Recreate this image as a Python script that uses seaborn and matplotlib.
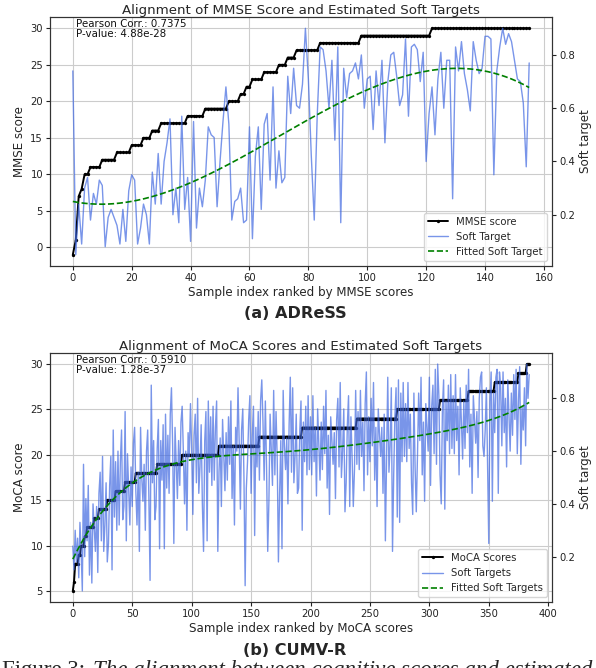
import numpy as np
import pandas as pd
import matplotlib
matplotlib.use("Agg")
import matplotlib.pyplot as plt
import seaborn as sns

# ---------------- data: (a) ADReSS ----------------
mmse_levels = [-1, 1, 7, 8, 10, 11, 12, 13, 14, 15, 16, 17, 18, 19, 20, 21, 22, 23, 24, 25, 26, 27, 28, 29, 30]
mmse_counts = [1, 1, 1, 1, 2, 4, 5, 5, 4, 3, 3, 9, 6, 8, 4, 2, 2, 4, 5, 3, 3, 8, 14, 24, 34]
adress_soft = [
    0.74, 0.05, 0.24, 0.09, 0.30, 0.34, 0.18, 0.28, 0.24, 0.33,
    0.31, 0.08, 0.19, 0.22, 0.19, 0.16, 0.09, 0.22, 0.10, 0.29,
    0.35, 0.33, 0.09, 0.15, 0.24, 0.20, 0.09, 0.36, 0.24, 0.43,
    0.24, 0.40, 0.47, 0.56, 0.20, 0.30, 0.17, 0.57, 0.22, 0.34,
    0.10, 0.55, 0.15, 0.30, 0.23, 0.33, 0.53, 0.50, 0.49, 0.23,
    0.40, 0.55, 0.68, 0.54, 0.18, 0.25, 0.26, 0.30, 0.17, 0.18,
    0.53, 0.11, 0.42, 0.53, 0.22, 0.54, 0.58, 0.33, 0.68, 0.30,
    0.44, 0.32, 0.34, 0.72, 0.58, 0.75, 0.61, 0.60, 0.69, 0.90,
    0.71, 0.42, 0.18, 0.57, 0.83, 0.82, 0.74, 0.60, 0.78, 0.48,
    0.83, 0.17, 0.75, 0.64, 0.73, 0.74, 0.77, 0.71, 0.80, 0.60,
    0.71, 0.72, 0.52, 0.74, 0.61, 0.78, 0.47, 0.70, 0.80, 0.81,
    0.72, 0.61, 0.65, 0.86, 0.57, 0.83, 0.84, 0.82, 0.70, 0.81,
    0.40, 0.58, 0.68, 0.50, 0.71, 0.81, 0.60, 0.78, 0.78, 0.26,
    0.83, 0.74, 0.85, 0.73, 0.67, 0.59, 0.85, 0.78, 0.73, 0.75,
    0.87, 0.87, 0.86, 0.35, 0.74, 0.83, 0.90, 0.84, 0.88, 0.85,
    0.78, 0.71, 0.70, 0.62, 0.38, 0.77,
]

# ---------------- data: (b) CUMV-R ----------------
moca_levels = [5, 6, 8, 9, 10, 11, 12, 13, 14, 15, 16, 17, 18, 19, 20, 21, 22, 23, 24, 25, 26, 27, 28, 29, 30]
moca_counts = [1, 1, 3, 2, 3, 2, 6, 4, 7, 7, 8, 9, 18, 21, 31, 34, 36, 46, 34, 36, 24, 22, 20, 7, 3]
cumv_soft = [
    0.24, 0.15, 0.30, 0.18, 0.27, 0.12, 0.33, 0.22, 0.07, 0.55,
    0.20, 0.42, 0.26, 0.47, 0.13, 0.33, 0.10, 0.40, 0.31, 0.22,
    0.39, 0.14, 0.44, 0.52, 0.26, 0.58, 0.22, 0.32, 0.48, 0.18,
    0.25, 0.47, 0.58, 0.15, 0.68, 0.35, 0.56, 0.30, 0.60, 0.32,
    0.56, 0.68, 0.34, 0.39, 0.75, 0.26, 0.59, 0.46, 0.32, 0.54,
    0.39, 0.63, 0.69, 0.45, 0.32, 0.52, 0.22, 0.69, 0.50, 0.41,
    0.55, 0.30, 0.60, 0.68, 0.42, 0.11, 0.85, 0.48, 0.64, 0.34,
    0.39, 0.61, 0.72, 0.23, 0.64, 0.49, 0.70, 0.23, 0.74, 0.46,
    0.66, 0.44, 0.74, 0.84, 0.62, 0.25, 0.69, 0.56, 0.42, 0.64,
    0.47, 0.71, 0.77, 0.60, 0.40, 0.60, 0.30, 0.67, 0.58, 0.78,
    0.61, 0.36, 0.66, 0.74, 0.48, 0.80, 0.44, 0.54, 0.70, 0.40,
    0.22, 0.64, 0.75, 0.26, 0.79, 0.52, 0.73, 0.47, 0.77, 0.49,
    0.69, 0.79, 0.22, 0.52, 0.65, 0.39, 0.72, 0.59, 0.45, 0.67,
    0.49, 0.73, 0.55, 0.79, 0.42, 0.62, 0.32, 0.69, 0.60, 0.84,
    0.63, 0.38, 0.68, 0.76, 0.50, 0.09, 0.46, 0.56, 0.72, 0.81,
    0.44, 0.66, 0.77, 0.28, 0.69, 0.54, 0.75, 0.49, 0.79, 0.87,
    0.71, 0.49, 0.79, 0.54, 0.22, 0.41, 0.74, 0.61, 0.47, 0.83,
    0.51, 0.75, 0.57, 0.18, 0.44, 0.64, 0.23, 0.83, 0.62, 0.53,
    0.65, 0.40, 0.70, 0.88, 0.52, 0.84, 0.48, 0.58, 0.74, 0.44,
    0.46, 0.68, 0.79, 0.30, 0.71, 0.56, 0.77, 0.51, 0.81, 0.53,
    0.73, 0.51, 0.81, 0.56, 0.69, 0.43, 0.76, 0.63, 0.49, 0.71,
    0.53, 0.77, 0.59, 0.83, 0.46, 0.66, 0.36, 0.73, 0.64, 0.55,
    0.67, 0.42, 0.72, 0.80, 0.54, 0.86, 0.50, 0.60, 0.76, 0.37,
    0.48, 0.70, 0.81, 0.39, 0.73, 0.58, 0.39, 0.53, 0.83, 0.55,
    0.75, 0.53, 0.83, 0.58, 0.71, 0.45, 0.78, 0.90, 0.51, 0.73,
    0.56, 0.80, 0.62, 0.86, 0.49, 0.69, 0.39, 0.76, 0.67, 0.58,
    0.69, 0.44, 0.74, 0.26, 0.56, 0.88, 0.52, 0.62, 0.84, 0.22,
    0.51, 0.73, 0.84, 0.35, 0.87, 0.33, 0.82, 0.56, 0.86, 0.58,
    0.78, 0.56, 0.86, 0.61, 0.74, 0.48, 0.36, 0.82, 0.54, 0.37,
    0.58, 0.82, 0.64, 0.88, 0.51, 0.71, 0.41, 0.78, 0.69, 0.60,
    0.88, 0.47, 0.77, 0.85, 0.59, 0.91, 0.55, 0.93, 0.81, 0.51,
    0.40, 0.76, 0.87, 0.38, 0.79, 0.64, 0.85, 0.59, 0.89, 0.61,
    0.81, 0.59, 0.89, 0.64, 0.77, 0.51, 0.84, 0.71, 0.57, 0.79,
    0.61, 0.85, 0.67, 0.91, 0.54, 0.74, 0.44, 0.81, 0.72, 0.63,
    0.75, 0.50, 0.80, 0.88, 0.90, 0.62, 0.58, 0.68, 0.84, 0.54,
    0.25, 0.79, 0.90, 0.41, 0.82, 0.67, 0.88, 0.91, 0.44, 0.90,
    0.84, 0.62, 0.90, 0.67, 0.80, 0.54, 0.87, 0.74, 0.60, 0.82,
    0.66, 0.89, 0.72, 0.91, 0.59, 0.79, 0.92, 0.55, 0.77, 0.68,
    0.84, 0.62, 0.93, 0.80, 0.89,
]

panels = [
    dict(levels=mmse_levels, counts=mmse_counts, soft=adress_soft, deg=3,
         title="Alignment of MMSE Score and Estimated Soft Targets",
         ylabel="MMSE score", xlabel="Sample index ranked by MMSE scores",
         labels=["MMSE score", "Soft Target", "Fitted Soft Target"],
         stats="Pearson Corr.: 0.7375\nP-value: 4.88e-28",
         caption="(a) ADReSS", xticks=range(0, 161, 20), yticks=range(0, 31, 5)),
    dict(levels=moca_levels, counts=moca_counts, soft=cumv_soft, deg=5,
         title="Alignment of MoCA Scores and Estimated Soft Targets",
         ylabel="MoCA score", xlabel="Sample index ranked by MoCA scores",
         labels=["MoCA Scores", "Soft Targets", "Fitted Soft Targets"],
         stats="Pearson Corr.: 0.5910\nP-value: 1.28e-37",
         caption="(b) CUMV-R", xticks=range(0, 401, 50), yticks=range(5, 31, 5)),
]

sns.set_theme(style="ticks")
plt.rcParams["font.family"] = ["DejaVu Sans"]
plt.rcParams["axes.linewidth"] = 0.8

W, H = 596, 668
fig = plt.figure(figsize=(W / 100, H / 100), dpi=100)

# axes boxes in pixels (left, top, right, bottom)
boxes = [(50, 17, 552, 266), (50, 352.7, 552, 602.3)]
captions_y = [313, 650.5]

for p, (l, t, r, b), cy in zip(panels, boxes, captions_y):
    ax1 = fig.add_axes([l / W, 1 - b / H, (r - l) / W, (b - t) / H])
    ax2 = ax1.twinx()

    score = np.repeat(p["levels"], p["counts"])
    soft = np.array(p["soft"])
    idx = np.arange(len(score))
    fitted = np.polyval(np.polyfit(idx, soft, p["deg"]), idx)
    df = pd.DataFrame({"idx": idx, "score": score, "soft": soft, "fit": fitted})

    ax1.grid(True, color="#cccccc", linewidth=0.8)
    ax1.set_axisbelow(True)

    sns.lineplot(data=df, x="idx", y="score", ax=ax1, color="black", linewidth=1.4,
                 marker="o", markersize=2.4, markeredgewidth=0, legend=False)
    sns.lineplot(data=df, x="idx", y="soft", ax=ax2, color="royalblue", alpha=0.7,
                 linewidth=1.0, legend=False)
    sns.lineplot(data=df, x="idx", y="fit", ax=ax2, color="green", linewidth=1.2,
                 linestyle="--", legend=False)

    ax1.set_xticks(list(p["xticks"]))
    ax1.set_yticks(list(p["yticks"]))
    ax2.set_yticks([0.2, 0.4, 0.6, 0.8])
    for ax in (ax1, ax2):
        ax.tick_params(labelsize=7.2, length=3, width=0.8, pad=2, colors="#222222")
        for s in ax.spines.values():
            s.set_visible(True)
            s.set_color("#333333")
            s.set_linewidth(0.8)
    ax1.set_xlabel(p["xlabel"], fontsize=8.6, labelpad=2)
    ax1.set_ylabel(p["ylabel"], fontsize=8.6, labelpad=3)
    ax2.set_ylabel("Soft target", fontsize=8.6, labelpad=3)
    ax1.set_title(p["title"], fontsize=9.6, pad=1.5)

    ax1.text(0.052, 0.99, p["stats"], transform=ax1.transAxes, fontsize=7.4,
             va="top", ha="left", linespacing=1.0, color="#111111")

    handles = [ax1.lines[0], ax2.lines[0], ax2.lines[1]]
    ax2.legend(handles, p["labels"], loc="lower right", fontsize=7.3,
               frameon=True, fancybox=True, framealpha=0.8, edgecolor="#cccccc",
               handlelength=2.0, borderaxespad=0.5)

    fig.text(295 / W, 1 - cy / H, p["caption"], ha="center", va="center",
             fontsize=11.6, fontweight="bold")

# clipped paper caption at the very bottom
fig.text(2 / W, 1 - 676 / H, "Figure 3:", family=["Liberation Serif"], fontsize=16.5,
         ha="left", va="baseline")
fig.text(93 / W, 1 - 676 / H, "The alignment between cognitive scores and estimated",
         family=["Liberation Serif"], fontsize=16.5, style="italic", ha="left", va="baseline")

fig.savefig("out.png", dpi=100)
